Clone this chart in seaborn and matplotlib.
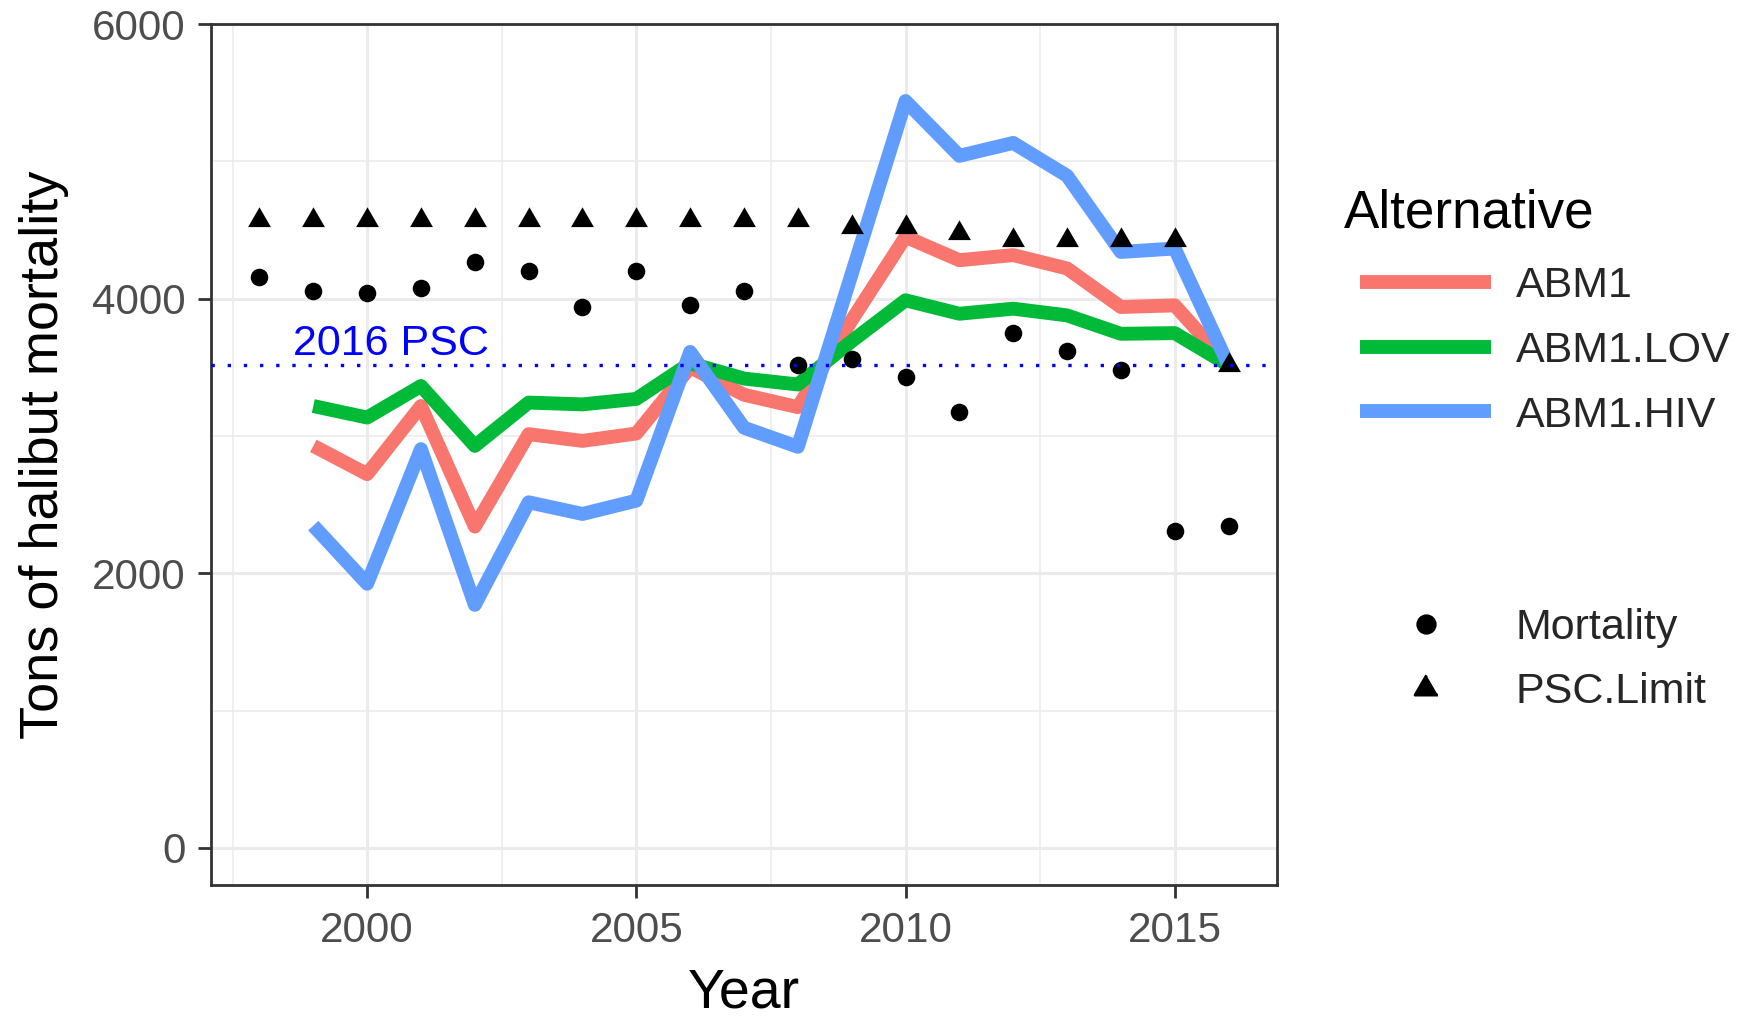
import matplotlib
matplotlib.use("Agg")
import matplotlib.pyplot as plt
from matplotlib.lines import Line2D
import numpy as np
import pandas as pd
import seaborn as sns

# ---------------- data ----------------
years = [1998, 1999, 2000, 2001, 2002, 2003, 2004, 2005, 2006, 2007,
         2008, 2009, 2010, 2011, 2012, 2013, 2014, 2015, 2016]
mortality = [4155, 4058, 4041, 4077, 4264, 4198, 3937, 4198, 3952, 4054,
             3515, 3564, 3431, 3176, 3749, 3617, 3480, 2310, 2342]
psc_limit = [4575, 4575, 4575, 4575, 4575, 4575, 4575, 4575, 4575, 4575,
             4575, 4525, 4525, 4475, 4425, 4425, 4425, 4425, 3515]

alt_years = [1999, 2000, 2001, 2002, 2003, 2004, 2005, 2006, 2007,
             2008, 2009, 2010, 2011, 2012, 2013, 2014, 2015, 2016]
abm1 = [2928, 2722, 3218, 2340, 3013, 2964, 3018, 3500, 3300,
        3210, 3843, 4450, 4280, 4317, 4220, 3939, 3951, 3515]
abm1_lov = [3218, 3134, 3364, 2928, 3243, 3230, 3270, 3530, 3418,
            3375, 3690, 3988, 3890, 3927, 3878, 3744, 3749, 3515]
abm1_hiv = [2347, 1924, 2904, 1770, 2517, 2432, 2529, 3612, 3060,
            2921, 4180, 5439, 5040, 5134, 4895, 4340, 4365, 3515]

alternatives = ["ABM1", "ABM1.LOV", "ABM1.HIV"]
alt_colors = ["#F8766D", "#00BA38", "#619CFF"]
point_labels = ["Mortality", "PSC.Limit"]
psc_2016 = 3515
psc_label = "2016 PSC"

# ---------------- frames ----------------
df_lines = pd.concat([
    pd.DataFrame({"Year": alt_years, "Tons": abm1, "Alternative": "ABM1"}),
    pd.DataFrame({"Year": alt_years, "Tons": abm1_lov, "Alternative": "ABM1.LOV"}),
    pd.DataFrame({"Year": alt_years, "Tons": abm1_hiv, "Alternative": "ABM1.HIV"}),
], ignore_index=True)
df_mort = pd.DataFrame({"Year": years, "Tons": mortality})
df_psc = pd.DataFrame({"Year": years, "Tons": psc_limit})

# ---------------- style ----------------
sns.set_theme(style="white")
plt.rcParams["font.family"] = ["Liberation Sans", "DejaVu Sans"]

fig = plt.figure(figsize=(8.78, 5.095), dpi=200)
W, H = 1756, 1019
ax_l, ax_r, ax_t, ax_b = 211, 1277, 24, 885
ax = fig.add_axes([ax_l / W, 1 - ax_b / H, (ax_r - ax_l) / W, (ax_b - ax_t) / H])

tri = [(0, 0.577), (-0.5, -0.289), (0.5, -0.289)]

sns.lineplot(data=df_lines, x="Year", y="Tons", hue="Alternative",
             hue_order=alternatives, palette=alt_colors, linewidth=5.0,
             legend=False, ax=ax, solid_capstyle="butt", zorder=2)
sns.scatterplot(data=df_mort, x="Year", y="Tons", color="black", marker="o",
                s=40, linewidth=0, ax=ax, legend=False, zorder=3)
sns.scatterplot(data=df_psc, x="Year", y="Tons", color="black", marker=tri,
                s=90, linewidth=0, ax=ax, legend=False, zorder=3)

ax.axhline(psc_2016, color="#0000FF", linewidth=1.2,
           linestyle=(0, (1, 3.85)), zorder=4)
ax.text(2000.45, 3670, psc_label, color="#0000FF", fontsize=15.5,
        ha="center", va="center", zorder=5)

ax.set_xlim(1997.1, 2016.9)
ax.set_ylim(-270, 6000)
ax.set_xticks([2000, 2005, 2010, 2015])
ax.set_xticks([1997.5, 2002.5, 2007.5, 2012.5], minor=True)
ax.set_yticks([0, 2000, 4000, 6000])
ax.set_yticks([1000, 3000, 5000], minor=True)
ax.grid(which="major", color="#EBEBEB", linewidth=1.1, zorder=0)
ax.grid(which="minor", color="#EBEBEB", linewidth=0.55, zorder=0)
ax.set_axisbelow(True)
for s in ax.spines.values():
    s.set_visible(True)
    s.set_color("#333333")
    s.set_linewidth(1.0)
ax.tick_params(which="major", direction="out", length=4.7, width=1.0,
               color="#333333", labelcolor="#4D4D4D", labelsize=15.2,
               bottom=True, left=True)
ax.tick_params(axis="x", which="major", pad=4.8)
ax.tick_params(axis="y", which="major", pad=4.5)
ax.tick_params(which="minor", length=0)

ax.set_xlabel("Year", fontsize=20, color="black")
ax.set_ylabel("Tons of halibut mortality", fontsize=19.5, color="black")
ax.xaxis.set_label_coords(0.5, (ax_b - 994) / (ax_b - ax_t))
ax.xaxis.label.set_va("center")
ax.yaxis.set_label_coords((44 - ax_l) / (ax_r - ax_l), 0.5)
ax.yaxis.label.set_va("center")

# legends
fig.text(1344 / W, 1 - 213 / H, "Alternative", fontsize=19.1, color="black",
         ha="left", va="center")
h1 = [Line2D([0], [0], color=c, lw=5.0, solid_capstyle="butt") for c in alt_colors]
fig.legend(h1, alternatives, loc="center left",
           bbox_to_anchor=(1360 / W, 1 - 351 / H), frameon=False,
           fontsize=15.5, handlelength=3.05, handletextpad=0.57,
           labelspacing=0.57, borderaxespad=0, borderpad=0)
h2 = [Line2D([0], [0], marker="o", color="black", linestyle="None", markersize=6.3),
      Line2D([0], [0], marker=tri, color="black", linestyle="None", markersize=9.5)]
fig.legend(h2, point_labels, loc="center left",
           bbox_to_anchor=(1360 / W, 1 - 660 / H), frameon=False,
           fontsize=15.5, handlelength=3.05, handletextpad=0.57,
           labelspacing=0.55, borderaxespad=0, borderpad=0)

fig.savefig("out.png", dpi=200)
